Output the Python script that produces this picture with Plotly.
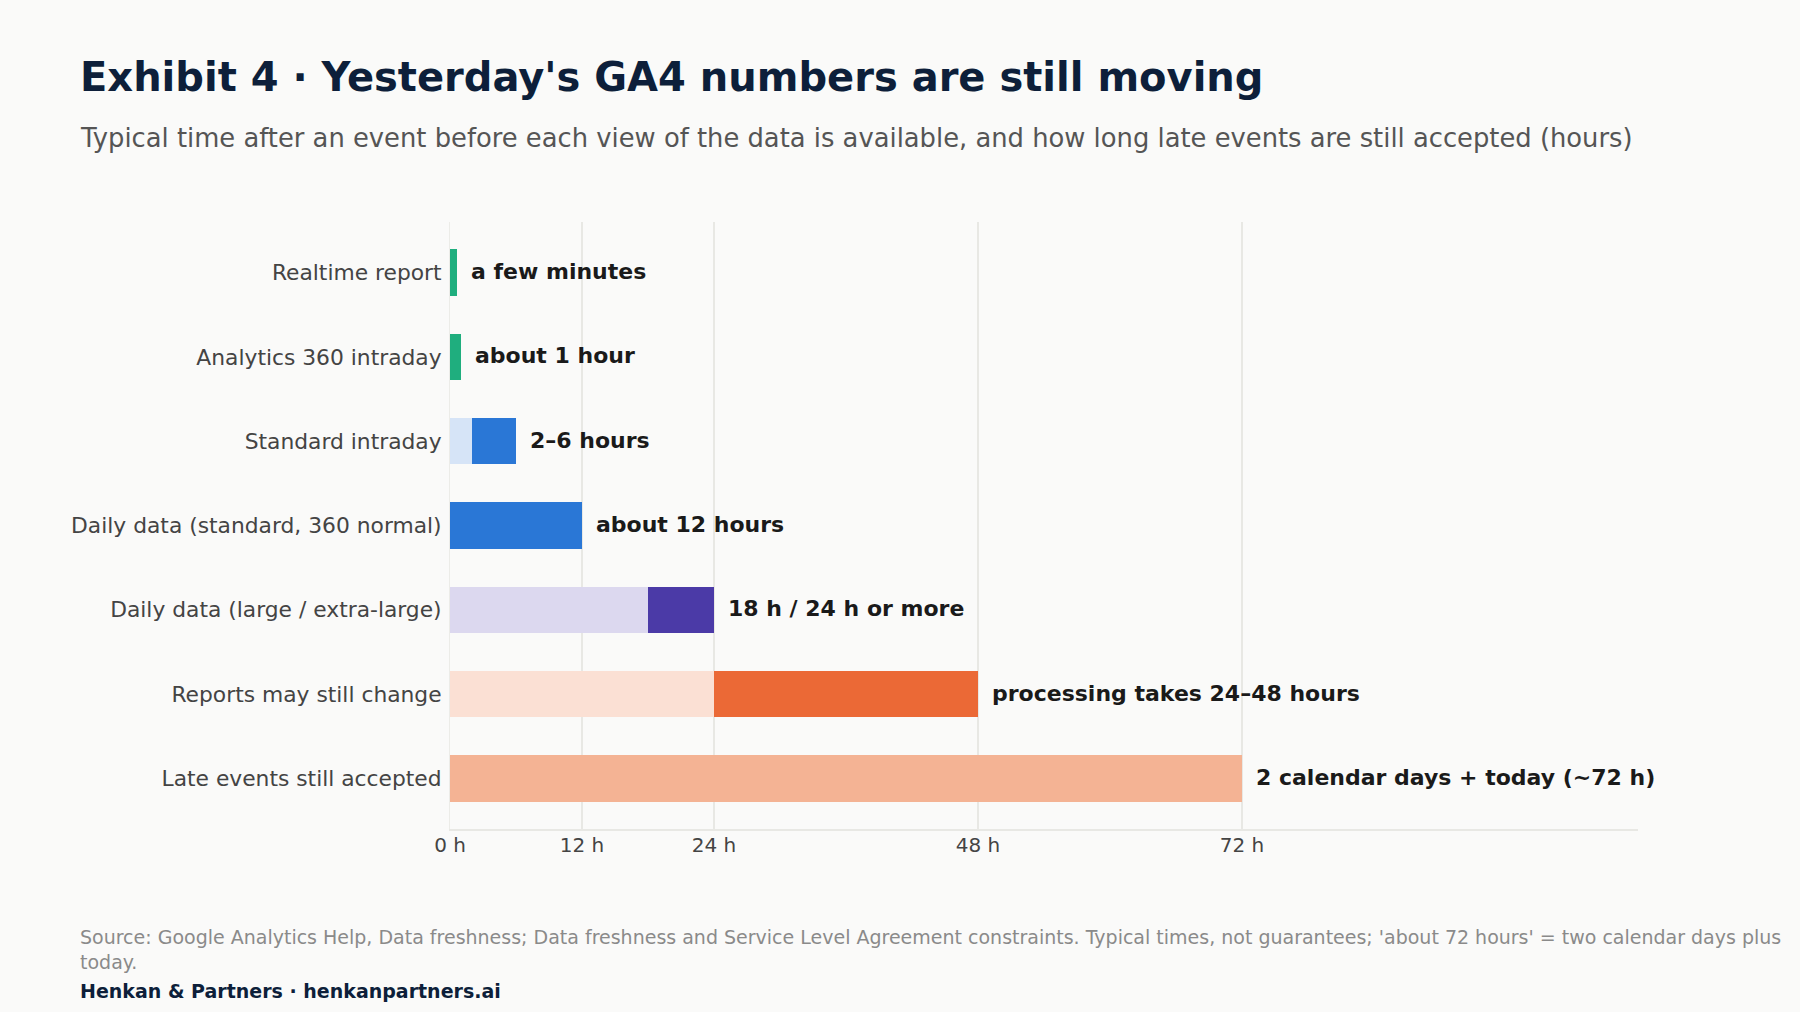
import plotly.graph_objects as go

# rows, top to bottom
stages = ["Realtime report", "Analytics 360 intraday", "Standard intraday",
          "Daily data (standard, 360 normal)", "Daily data (large / extra-large)",
          "Reports may still change", "Late events still accepted"]
# lighter lead-in part of each bar (hours)
early = [0, 0, 2, 0, 18, 24, 0]
# darker main part of each bar (hours)
main = [0.6, 1, 4, 12, 6, 24, 72]
labels = ["a few minutes", "about 1 hour", "2\u20136 hours", "about 12 hours",
          "18 h / 24 h or more", "processing takes 24\u201348 hours",
          "2 calendar days + today (~72 h)"]
early_colors = ["#D6E4F7", "#D6E4F7", "#D6E4F7", "#D6E4F7", "#DCD8EF", "#FBE0D4", "#FBE0D4"]
main_colors = ["#1FAE7E", "#1FAE7E", "#2A77D6", "#2A77D6", "#4B3AA7", "#EB6936", "#F4B394"]
hour_ticks = [0, 12, 24, 48, 72]

FONT = "DejaVu Sans"
W, H = 1800, 1012
L, R, T, B = 450, 162, 222, 183
pw, ph = W - L - R, H - T - B


def px_x(x):
    return (x - L) / pw


def px_y(y):
    return (H - y - B) / ph


fig = go.Figure()
fig.add_trace(go.Bar(y=stages, x=early, orientation="h",
                     marker=dict(color=early_colors, line=dict(width=0)),
                     hoverinfo="skip", showlegend=False))
fig.add_trace(go.Bar(y=stages, x=main, orientation="h",
                     marker=dict(color=main_colors, line=dict(width=0)),
                     hoverinfo="skip", showlegend=False))

for s, e, m, t in zip(stages, early, main, labels):
    fig.add_annotation(x=e + m, y=s, text=t, showarrow=False, xanchor="left",
                       xshift=12, yshift=1,
                       font=dict(family=FONT, size=22, color="#1A1A1A", weight="bold"))

texts = [
    (px_y(77), "Exhibit 4 \u00b7 Yesterday's GA4 numbers are still moving",
     dict(family=FONT, size=40, color="#0D1F3A", weight="bold")),
    (px_y(138), "Typical time after an event before each view of the data is available, "
                "and how long late events are still accepted (hours)",
     dict(family=FONT, size=25.8, color="#555555")),
    (px_y(949), "Source: Google Analytics Help, Data freshness; Data freshness and Service Level "
                "Agreement constraints. Typical times, not guarantees; 'about 72 hours' = two "
                "calendar days plus<br>today.",
     dict(family=FONT, size=19, color="#8A8A8A")),
    (px_y(991), "Henkan &amp; Partners \u00b7 henkanpartners.ai",
     dict(family=FONT, size=19, color="#0D1F3A", weight="bold")),
]
for yy, t, f in texts:
    fig.add_annotation(x=px_x(78), y=yy, xref="paper", yref="paper", text=t,
                       showarrow=False, xanchor="left", yanchor="middle", align="left", font=f)

fig.update_layout(
    width=W, height=H,
    barmode="stack", bargap=0.45,
    margin=dict(l=L, r=R, t=T, b=B),
    paper_bgcolor="#FAFAF9", plot_bgcolor="#FAFAF9",
    font=dict(family=FONT),
)
fig.update_xaxes(range=[0, 108], tickvals=hour_ticks, ticktext=[f"{h} h" for h in hour_ticks],
                 showgrid=True, gridcolor="#E8E8E4", gridwidth=1.5, zeroline=False,
                 showline=True, linecolor="#E8E8E4", linewidth=2,
                 tickfont=dict(family=FONT, size=20, color="#444444"), ticks="", ticklen=0,
                 ticklabelstandoff=-3)
fig.update_yaxes(categoryorder="array", categoryarray=stages, range=[6.6, -0.6],
                 showgrid=False, zeroline=False, ticks="",
                 showline=True, linecolor="#ECECE8", linewidth=1,
                 tickfont=dict(family=FONT, size=21.8, color="#444444"),
                 ticklabelstandoff=3)

fig.write_html("out.html", config={"displayModeBar": False},
               post_script="document.body.style.margin='0';")
